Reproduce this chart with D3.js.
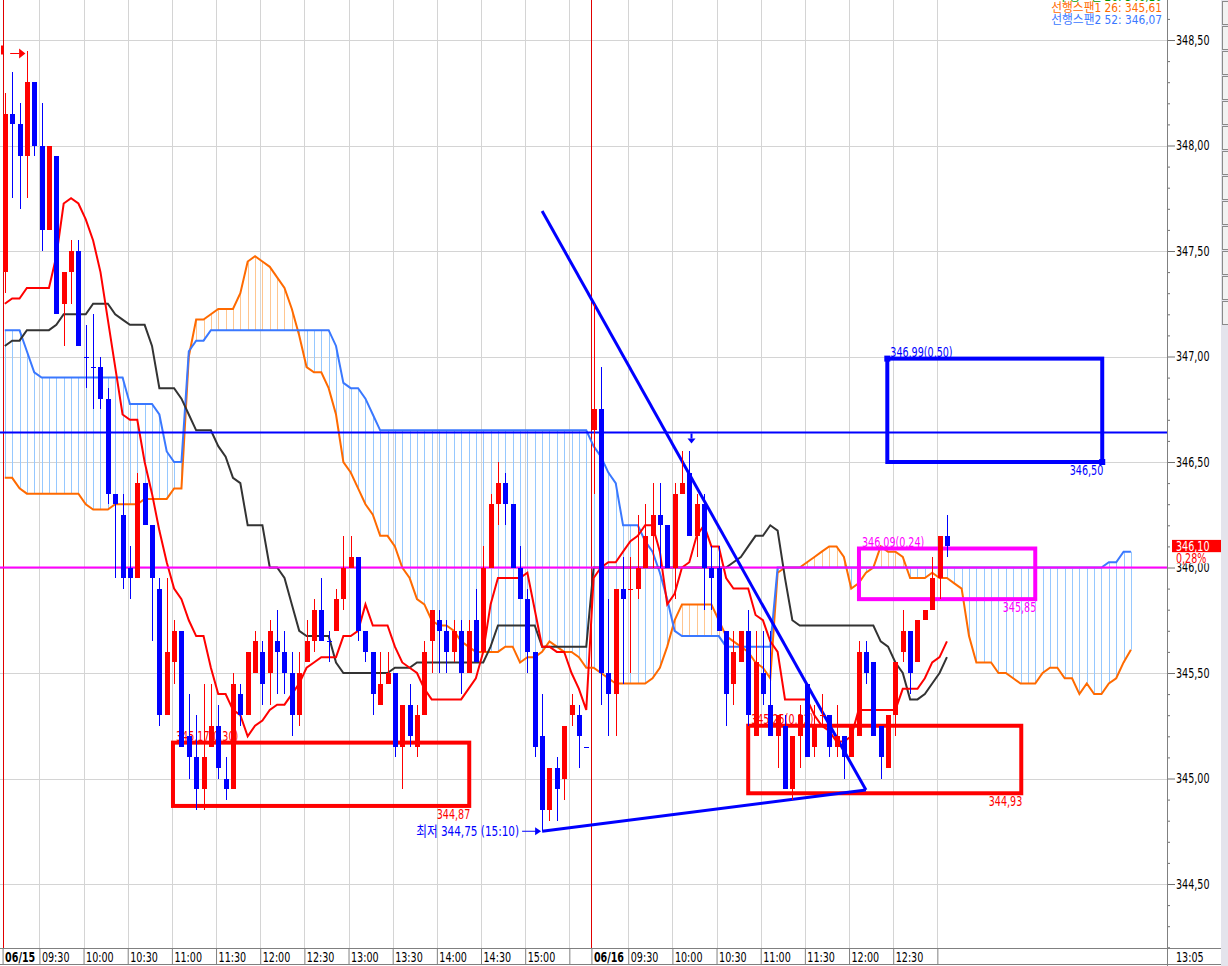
<!DOCTYPE html>
<html>
<head>
<meta charset="utf-8">
<script src="https://cdn.jsdelivr.net/npm/d3@7"></script>
<style>
body{margin:0;background:#fff;}
svg{display:block;}
text{font-family:"Liberation Sans Narrow","DejaVu Sans Condensed","Noto Sans CJK KR",sans-serif;}
</style>
</head>
<body>
<svg id="chart" width="1228" height="966"></svg>
<script>
// ---- data ----
var days = ["06/15", "06/16"];
var day1Count = 80;
var times1 = ["09:30","10:00","10:30","11:00","11:30","12:00","12:30","13:00","13:30","14:00","14:30","15:00",""];
var times2 = ["09:30","10:00","10:30","11:00","11:30","12:00","12:30",""];
var lastTime = "13:05";

var opens = [347.40,348.15,348.10,347.95,348.30,348.00,347.60,347.95,347.25,347.40,
  347.50,347.00,346.95,346.95,346.80,346.35,346.25,346.00,345.95,346.40,
  346.20,345.90,345.30,345.55,345.70,345.20,345.10,344.95,345.15,345.25,
  345.00,344.95,345.40,345.30,345.50,345.60,345.50,345.65,345.60,345.50,
  345.30,345.55,345.65,345.80,345.65,345.70,345.85,346.00,346.05,345.70,
  345.60,345.35,345.45,345.50,345.15,345.35,345.15,345.30,345.65,345.75,
  345.70,345.60,345.70,345.50,345.75,345.60,346.00,346.30,346.40,346.30,
  346.00,345.85,345.60,345.20,344.85,345.05,345.00,345.30,345.30,345.15,
  346.65,346.75,345.50,345.40,345.90,345.90,345.90,346.00,346.15,346.25,
  346.20,346.00,346.35,346.45,346.15,346.30,346.00,346.00,345.70,345.45,
  345.55,345.70,345.20,345.50,345.35,345.20,345.25,344.95,345.20,345.45,
  345.15,345.30,345.30,345.15,345.20,345.10,345.20,345.60,345.55,345.25,
  345.05,345.30,345.60,345.70,345.55,345.75,345.80,345.95,346.15];
var highs = [348.25,348.35,348.20,348.45,348.30,348.20,348.00,347.95,347.40,347.55,
  347.55,347.15,347.20,347.00,346.85,346.35,346.35,346.10,346.45,346.40,
  346.20,345.95,345.95,345.75,345.70,345.40,345.30,345.45,345.45,345.35,
  345.10,345.50,345.45,345.60,345.70,345.65,345.75,345.80,345.70,345.60,
  345.60,345.75,345.85,345.95,345.70,345.90,346.15,346.15,346.05,345.70,
  345.60,345.60,345.60,345.50,345.35,345.45,345.35,345.65,345.80,345.80,
  345.75,345.75,345.75,345.75,345.90,346.10,346.35,346.50,346.45,346.30,
  346.10,345.90,345.60,345.40,345.05,345.10,345.25,345.40,345.35,345.15,
  347.25,346.95,345.85,345.90,346.05,346.05,346.25,346.30,346.40,346.40,
  346.20,346.40,346.55,346.55,346.35,346.35,346.10,346.10,345.70,345.70,
  345.70,345.80,345.70,345.70,345.70,345.30,345.30,345.20,345.35,345.45,
  345.35,345.40,345.30,345.35,345.20,345.25,345.65,345.65,345.55,345.25,
  345.30,345.55,345.80,345.70,345.75,345.80,346.05,346.15,346.25];
var lows = [347.30,347.75,347.70,347.75,347.95,347.50,347.60,347.20,347.05,347.25,
  347.05,346.85,346.75,346.75,346.30,345.95,345.90,345.85,345.95,346.20,
  345.65,345.25,345.30,345.45,345.15,345.00,344.85,344.85,345.15,345.00,
  344.90,344.95,345.25,345.30,345.50,345.35,345.35,345.40,345.40,345.20,
  345.25,345.55,345.60,345.65,345.55,345.70,345.80,346.00,345.65,345.55,
  345.30,345.35,345.45,345.10,344.95,345.15,345.10,345.30,345.50,345.50,
  345.50,345.55,345.40,345.50,345.55,345.60,346.00,346.20,346.20,346.00,
  345.85,345.50,345.10,344.75,344.80,344.80,344.90,345.25,345.05,345.15,
  346.35,345.35,345.20,345.20,345.45,345.50,345.85,346.00,346.00,346.00,
  346.00,345.85,346.35,346.15,346.05,345.80,345.80,345.70,345.25,345.35,
  345.55,345.25,345.20,345.35,345.20,345.05,344.95,344.90,345.05,345.10,
  345.10,345.25,345.10,345.10,345.00,345.10,345.20,345.45,345.20,345.00,
  345.05,345.20,345.55,345.40,345.55,345.75,345.80,345.85,346.05];
var closes = [348.15,348.10,347.95,348.30,348.00,347.60,348.00,347.20,347.40,347.50,
  347.05,347.00,346.95,346.80,346.35,346.30,345.95,345.95,346.40,346.20,
  345.95,345.30,345.60,345.70,345.15,345.10,344.95,345.10,345.25,345.05,
  344.95,345.45,345.30,345.60,345.65,345.45,345.70,345.60,345.50,345.30,
  345.50,345.65,345.80,345.65,345.65,345.85,346.00,346.05,345.70,345.60,
  345.40,345.45,345.50,345.15,345.35,345.20,345.30,345.60,345.80,345.70,
  345.60,345.70,345.50,345.70,345.55,346.00,346.30,346.40,346.30,346.00,
  345.85,345.60,345.15,344.85,345.05,344.95,345.25,345.35,345.20,345.15,
  346.75,345.50,345.40,345.90,345.85,345.90,346.00,346.15,346.25,346.20,
  346.00,346.35,346.40,346.15,346.30,346.00,345.95,345.70,345.40,345.60,
  345.70,345.30,345.55,345.40,345.20,345.30,344.95,345.20,345.30,345.10,
  345.25,345.30,345.15,345.20,345.10,345.25,345.60,345.50,345.20,345.10,
  345.30,345.55,345.70,345.50,345.75,345.80,345.95,346.15,346.10];

var tenkan = [347.25,347.275,347.275,347.325,347.325,347.325,347.325,347.475,347.725,347.75,
  347.725,347.65,347.55,347.40,347.175,346.95,346.725,346.70,346.70,346.50,
  346.35,346.175,346.025,345.90,345.85,345.75,345.675,345.675,345.525,345.40,
  345.40,345.325,345.30,345.20,345.25,345.275,345.325,345.35,345.35,345.40,
  345.45,345.525,345.55,345.575,345.575,345.575,345.675,345.675,345.70,345.825,
  345.725,345.725,345.725,345.625,345.55,345.525,345.50,345.425,345.375,345.375,
  345.375,345.375,345.375,345.425,345.475,345.60,345.825,345.95,345.95,345.95,
  345.95,345.975,345.80,345.625,345.625,345.60,345.60,345.50,345.425,345.325,
  345.95,346.00,346.025,346.025,346.075,346.125,346.15,346.20,346.20,346.075,
  345.825,345.875,346.00,346.025,346.15,346.20,346.10,346.10,345.95,345.90,
  345.90,345.90,345.775,345.75,345.65,345.60,345.375,345.375,345.375,345.375,
  345.30,345.25,345.225,345.175,345.175,345.20,345.325,345.325,345.325,345.325,
  345.325,345.325,345.425,345.425,345.425,345.475,345.55,345.575,345.65];
var kijun = [347.05,347.075,347.075,347.125,347.125,347.125,347.125,347.15,347.20,347.20,
  347.20,347.20,347.25,347.25,347.25,347.20,347.175,347.15,347.15,347.15,
  347.05,346.85,346.85,346.85,346.80,346.725,346.65,346.65,346.65,346.575,
  346.525,346.425,346.40,346.20,346.20,346.20,346.00,346.00,345.95,345.825,
  345.70,345.675,345.675,345.675,345.675,345.55,345.50,345.50,345.50,345.50,
  345.50,345.50,345.50,345.525,345.525,345.525,345.55,345.55,345.55,345.55,
  345.55,345.55,345.55,345.55,345.55,345.55,345.625,345.725,345.725,345.725,
  345.725,345.725,345.725,345.625,345.625,345.625,345.625,345.625,345.625,345.625,
  346.00,346.00,346.00,346.00,346.00,346.00,346.00,346.00,346.00,346.00,
  346.00,346.00,346.00,346.00,346.00,346.00,346.00,346.00,346.00,346.025,
  346.05,346.10,346.15,346.15,346.20,346.175,345.95,345.75,345.725,345.725,
  345.725,345.725,345.725,345.725,345.725,345.725,345.725,345.725,345.725,345.65,
  345.625,345.55,345.50,345.375,345.375,345.40,345.45,345.50,345.575];
var span1 = [346.425,346.425,346.375,346.35,346.35,346.35,346.35,346.35,346.35,346.35,
  346.35,346.30,346.275,346.275,346.275,346.30,346.30,346.30,346.30,346.325,
  346.325,346.325,346.325,346.375,346.375,347.00,347.175,347.175,347.20,347.225,
  347.225,347.225,347.30,347.45,347.475,347.45,347.425,347.375,347.325,347.225,
  347.10,346.95,346.925,346.925,346.85,346.725,346.50,346.45,346.375,346.30,
  346.25,346.15,346.15,346.10,346.00,345.95,345.85,345.825,345.75,345.725,
  345.725,345.70,345.65,345.625,345.60,345.60,345.60,345.60,345.625,345.625,
  345.55,345.575,345.575,345.60,345.65,345.625,345.60,345.60,345.575,345.525,
  345.525,345.50,345.475,345.45,345.45,345.45,345.45,345.45,345.475,345.525,
  345.625,345.75,345.825,345.825,345.825,345.825,345.825,345.75,345.675,345.65,
  345.625,345.60,345.55,345.525,345.475,345.975,346.00,346.00,346.00,346.025,
  346.05,346.075,346.10,346.10,346.05,345.90,345.925,345.975,346.00,346.10,
  346.075,346.075,346.05,345.95,345.95,345.95,345.975,345.95,345.95,345.925,
  345.90,345.675,345.55,345.55,345.55,345.50,345.50,345.475,345.45,345.45,
  345.45,345.50,345.525,345.525,345.475,345.475,345.40,345.45,345.40,345.40,
  345.45,345.475,345.55,345.61];
var span2 = [347.125,347.125,347.125,347.025,346.925,346.90,346.90,346.90,346.90,346.90,
  346.90,346.90,346.90,346.90,346.90,346.90,346.90,346.775,346.775,346.775,
  346.775,346.725,346.55,346.50,346.50,347.025,347.075,347.075,347.125,347.125,
  347.125,347.125,347.125,347.125,347.125,347.125,347.125,347.125,347.125,347.125,
  347.125,347.125,347.125,347.125,347.125,347.05,346.875,346.85,346.85,346.80,
  346.725,346.65,346.65,346.65,346.65,346.65,346.65,346.65,346.65,346.65,
  346.65,346.65,346.65,346.65,346.65,346.65,346.65,346.65,346.65,346.65,
  346.65,346.65,346.65,346.65,346.65,346.65,346.65,346.65,346.65,346.65,
  346.575,346.525,346.45,346.40,346.20,346.20,346.20,346.125,346.075,345.975,
  345.85,345.70,345.675,345.675,345.675,345.675,345.675,345.675,345.625,345.625,
  345.625,345.625,345.625,345.625,345.625,346.00,346.00,346.00,346.00,346.00,
  346.00,346.00,346.00,346.00,346.00,346.00,346.00,346.00,346.00,346.00,
  346.00,346.00,346.00,346.00,346.00,346.00,346.00,346.00,346.00,346.00,
  346.00,346.00,346.00,346.00,346.00,346.00,346.00,346.00,346.00,346.00,
  346.00,346.00,346.00,346.00,346.00,346.00,346.00,346.00,346.00,346.00,
  346.025,346.025,346.075,346.075];

var yMajor = [348.5, 348.0, 347.5, 347.0, 346.5, 346.0, 345.5, 345.0, 344.5];
var openLine = 346.64;
var baseLine = 346.00;
var lastPct = "0,28%";

var boxFrom = [22.85, 101, 116.05, 119.9];
var boxTo = [63.1, 138.1, 140, 149.1];
var boxHigh = [345.17, 345.25, 346.09, 346.99];
var boxLow = [344.87, 344.93, 345.85, 346.50];
var boxPct = ["0,30", "0,32", "0,24", "0,50"];

var trendIdx = [73, 117];
var trendTop = [347.69, 344.945];
var trendBottom = [344.75, 344.945];
var lowText = "최저";
var lowTime = "15:10";

// ---- drawing ----
var W = 1228, H = 966, plotRight = 1167, plotBottom = 948;
var svg = d3.select("#chart");
var x = d3.scaleLinear().domain([-0.652, 157.9]).range([0, plotRight]);
var y = d3.scaleLinear().domain([348.5, 344.5]).range([40, 884]);
var fmt = function(v){ return d3.format(".2f")(v).replace(".", ","); };
var cut = function(v){ return fmt(Math.floor(v * 100 + 1e-6) / 100); };
var px = function(v){ return Math.round(v) + 0.5; };

svg.append("rect").attr("width", W).attr("height", H).attr("fill", "#fff");
svg.append("defs").append("clipPath").attr("id", "clip")
  .append("rect").attr("width", plotRight).attr("height", plotBottom);
var plot = svg.append("g").attr("clip-path", "url(#clip)");

// tick positions on the time axis (grid sits at left edge of the candle slot)
var tickIdx = [], tickText = [], tickBold = [];
[times1, times2].forEach(function(list, d){
  var start = d * day1Count;
  tickIdx.push(start - 0.3); tickText.push(days[d]); tickBold.push(true);
  list.forEach(function(t, j){
    tickIdx.push(start + 5 + 6 * j - 0.3); tickText.push(t); tickBold.push(false);
  });
});

// grid
plot.selectAll(".hg").data(yMajor).enter().append("line")
  .attr("x1", 0).attr("x2", plotRight)
  .attr("y1", function(d){ return px(y(d)); }).attr("y2", function(d){ return px(y(d)); })
  .attr("stroke", "#d4d4d4");
plot.selectAll(".vg").data(tickIdx.filter(function(d, i){ return !tickBold[i]; })).enter().append("line")
  .attr("x1", function(d){ return px(x(d)); }).attr("x2", function(d){ return px(x(d)); })
  .attr("y1", 0).attr("y2", plotBottom)
  .attr("stroke", "#d4d4d4");
plot.selectAll(".dg").data(tickIdx.filter(function(d, i){ return tickBold[i]; })).enter().append("line")
  .attr("x1", function(d){ return px(x(d)); }).attr("x2", function(d){ return px(x(d)); })
  .attr("y1", 0).attr("y2", plotBottom)
  .attr("stroke", "#e00000");

// cloud hatch
var hatch = d3.range(span1.length).filter(function(i){ return span1[i] !== span2[i]; });
plot.selectAll(".hatch").data(hatch).enter().append("line")
  .attr("x1", function(i){ return px(x(i)); }).attr("x2", function(i){ return px(x(i)); })
  .attr("y1", function(i){ return y(span1[i]); }).attr("y2", function(i){ return y(span2[i]); })
  .attr("stroke", function(i){ return span1[i] > span2[i] ? "#ffc690" : "#96c8ff"; })
  .attr("stroke-width", 1);

var lineGen = d3.line().x(function(d, i){ return x(i); }).y(function(d){ return y(d); });
[[span1, "#ff6a00"], [span2, "#3a78ff"], [kijun, "#333333"], [tenkan, "#ff0000"]].forEach(function(s){
  plot.append("path").datum(s[0]).attr("d", lineGen)
    .attr("fill", "none").attr("stroke", s[1]).attr("stroke-width", 2);
});

// horizontal study lines
plot.append("line").attr("x1", 0).attr("x2", plotRight)
  .attr("y1", y(openLine)).attr("y2", y(openLine)).attr("stroke", "#0000ff").attr("stroke-width", 2);
plot.append("line").attr("x1", 0).attr("x2", plotRight)
  .attr("y1", y(baseLine)).attr("y2", y(baseLine)).attr("stroke", "#ff00ff").attr("stroke-width", 2);

// boxes
var boxColors = ["#ff0000", "#ff0000", "#ff00ff", "#0000ff"];
boxFrom.forEach(function(b, k){
  var x0 = x(boxFrom[k]), x1 = x(boxTo[k]), y0 = y(boxHigh[k]), y1 = y(boxLow[k]);
  plot.append("rect").attr("x", x0).attr("y", y0).attr("width", x1 - x0).attr("height", y1 - y0)
    .attr("fill", "none").attr("stroke", boxColors[k]).attr("stroke-width", 4);
  plot.append("text").attr("class", "sq").attr("x", x0 + 3).attr("y", y0 - 2).attr("font-size", 14)
    .attr("fill", boxColors[k]).text(fmt(boxHigh[k]) + "(" + boxPct[k] + ")");
  plot.append("text").attr("class", "sq").attr("x", x1 + 1).attr("y", y1 + 13).attr("font-size", 14)
    .attr("text-anchor", "end").attr("fill", boxColors[k]).text(fmt(boxLow[k]));
});
// handles on the blue box
plot.append("rect").attr("x", x(boxFrom[3]) - 3).attr("y", y(boxHigh[3]) - 3).attr("width", 6).attr("height", 6).attr("fill", "#0000ff");
plot.append("rect").attr("x", x(boxTo[3]) - 3).attr("y", y(boxLow[3]) - 3).attr("width", 6).attr("height", 6).attr("fill", "#0000ff");

// trend lines
plot.append("line").attr("x1", x(trendIdx[0])).attr("y1", y(trendTop[0]))
  .attr("x2", x(trendIdx[1])).attr("y2", y(trendTop[1])).attr("stroke", "#0000ff").attr("stroke-width", 3);
plot.append("line").attr("x1", x(trendIdx[0])).attr("y1", y(trendBottom[0]))
  .attr("x2", x(trendIdx[1])).attr("y2", y(trendBottom[1])).attr("stroke", "#0000ff").attr("stroke-width", 3);

// candles
var idx = d3.range(opens.length);
function candleColor(i){
  if (closes[i] > opens[i]) return "#ff0000";
  if (closes[i] < opens[i]) return "#0000ff";
  return (i > 0 && closes[i] > closes[i - 1]) ? "#ff0000" : "#0000ff";
}
var cg = plot.append("g").attr("shape-rendering", "crispEdges");
cg.selectAll(".wick").data(idx).enter().append("line")
  .attr("x1", function(i){ return px(x(i)); }).attr("x2", function(i){ return px(x(i)); })
  .attr("y1", function(i){ return y(highs[i]); }).attr("y2", function(i){ return y(lows[i]); })
  .attr("stroke", candleColor);
cg.selectAll(".body").data(idx).enter().append("rect")
  .attr("x", function(i){ return Math.round(x(i)) - 2; })
  .attr("width", 5)
  .attr("y", function(i){ return Math.min(y(opens[i]), y(closes[i])); })
  .attr("height", function(i){ return Math.max(1, Math.abs(y(opens[i]) - y(closes[i]))); })
  .attr("fill", candleColor);

// low marker
var lx = x(trendIdx[0]), ly = y(trendBottom[0]);
plot.append("path").attr("d", "M" + (lx - 20) + "," + ly + "H" + (lx - 6))
  .attr("stroke", "#0000ff").attr("stroke-width", 1);
plot.append("path").attr("d", "M" + (lx - 7) + "," + (ly - 4) + "L" + (lx - 1) + "," + ly + "L" + (lx - 7) + "," + (ly + 4) + "Z")
  .attr("fill", "#0000ff");
plot.append("text").attr("class", "lw").attr("x", lx - 23).attr("y", ly + 5).attr("font-size", 14)
  .attr("text-anchor", "end").attr("fill", "#0000ff")
  .text(lowText + " " + fmt(trendBottom[0]) + " (" + lowTime + ")");

// down arrow under the open line
var ax = px(x(93.2)), ay = y(openLine);
plot.append("path").attr("d", "M" + ax + "," + (ay + 1) + "V" + (ay + 6)).attr("stroke", "#0000ff").attr("stroke-width", 2);
plot.append("path").attr("d", "M" + (ax - 4) + "," + (ay + 6) + "H" + (ax + 4) + "L" + ax + "," + (ay + 11) + "Z").attr("fill", "#0000ff");

// top-left arrow (high off-screen)
var ty = px(y(348.44));
plot.append("path").attr("d", "M" + x(0.73) + "," + ty + "H" + x(1.95)).attr("stroke", "#ff0000").attr("stroke-width", 1);
plot.append("path").attr("d", "M" + x(1.95) + "," + (ty - 5) + "L" + x(2.8) + "," + ty + "L" + x(1.95) + "," + (ty + 5) + "Z").attr("fill", "#ff0000");
plot.append("rect").attr("x", 1).attr("y", ty - 8).attr("width", 2.5).attr("height", 9).attr("fill", "#ff0000");

// legend (top line is cut by the window edge, as in the terminal)
var legend = svg.append("g").attr("font-size", 12).attr("text-anchor", "end");
legend.append("text").attr("class", "lg").attr("x", 1162).attr("y", 1).attr("fill", "#009900").text("후행스팬 26: " + cut(closes[closes.length - 1]));
legend.append("text").attr("class", "lg").attr("x", 1162).attr("y", 12).attr("fill", "#ff6a00").text("선행스팬1 26: " + cut(span1[span1.length - 1]));
legend.append("text").attr("class", "lg").attr("x", 1162).attr("y", 24).attr("fill", "#3a78ff").text("선행스팬2 52: " + cut(span2[span2.length - 1]));

// y axis
var yMinor = d3.range(3441, 3487).map(function(v){ return v / 10; })
  .filter(function(v){ return Math.abs(v * 2 - Math.round(v * 2)) > 1e-6; });
var ya1 = svg.append("g").attr("transform", "translate(" + plotRight + ",0)")
  .call(d3.axisRight(y).tickValues(yMinor).tickSize(3).tickFormat(""));
var ya2 = svg.append("g").attr("transform", "translate(" + plotRight + ",0)")
  .call(d3.axisRight(y).tickValues(yMajor).tickSize(8).tickPadding(1).tickFormat(fmt));
[ya1, ya2].forEach(function(g){
  g.select(".domain").remove();
  g.selectAll(".tick line").attr("stroke", "#707070");
  g.selectAll(".tick text").attr("class", "sq").attr("font-size", 14).attr("fill", "#000")
    .attr("font-family", "'Liberation Sans Narrow','DejaVu Sans Condensed',sans-serif");
});
svg.append("line").attr("x1", plotRight + 0.5).attr("x2", plotRight + 0.5).attr("y1", 0).attr("y2", H)
  .attr("stroke", "#808080");

// last price tag
var lastClose = closes[closes.length - 1];
var py = y(lastClose);
svg.append("rect").attr("x", 1172).attr("y", py - 6.5).attr("width", 49).attr("height", 12.5).attr("fill", "#ff0000");
svg.append("text").attr("class", "sq").attr("x", 1176).attr("y", py + 5).attr("font-size", 14).attr("fill", "#fff").text(fmt(lastClose));
svg.append("rect").attr("x", 1172).attr("y", py + 6).attr("width", 49).attr("height", 11).attr("fill", "#fff");
svg.append("text").attr("class", "sq").attr("x", 1176).attr("y", py + 16.5).attr("font-size", 14).attr("fill", "#ff0000").text(lastPct);

// x axis
var xa = svg.append("g").attr("transform", "translate(0," + plotBottom + ")")
  .call(d3.axisBottom(x).tickValues(tickIdx).tickSize(17).tickFormat(function(d, i){ return tickText[i]; }));
xa.select(".domain").remove();
xa.selectAll(".tick line").attr("stroke", "#808080");
xa.selectAll(".tick text").attr("class", "sq").attr("x", 2).attr("y", 9).attr("dy", "0.35em")
  .attr("text-anchor", "start").attr("font-size", 14).attr("fill", "#000")
  .attr("font-family", "'Liberation Sans Narrow','DejaVu Sans Condensed',sans-serif")
  .attr("font-weight", function(d, i){ return tickBold[i] ? "bold" : "normal"; });
svg.append("line").attr("x1", 0).attr("x2", 1221).attr("y1", plotBottom + 0.5).attr("y2", plotBottom + 0.5).attr("stroke", "#808080");
svg.append("line").attr("x1", 0).attr("x2", 1221).attr("y1", H - 1.5).attr("y2", H - 1.5).attr("stroke", "#808080");
svg.append("text").attr("class", "sq").attr("x", 1176).attr("y", plotBottom + 9).attr("dy", "0.35em").attr("font-size", 14).text(lastTime);

// right tool strip
svg.append("rect").attr("x", 1221).attr("y", 0).attr("width", 7).attr("height", H).attr("fill", "#e4e4ec");
d3.range(13).forEach(function(k){
  svg.append("rect").attr("x", 1222.5).attr("y", 1.5 + 25 * k).attr("width", 8).attr("height", 23)
    .attr("fill", "#f2f2f2").attr("stroke", "#8a8a8a");
});

// the terminal font is a narrow bitmap face: squeeze the labels horizontally
function squeeze(sel, f){
  sel.each(function(){
    var n = this, w = n.getComputedTextLength();
    if (w > 0) { n.setAttribute("textLength", (w * f).toFixed(1)); n.setAttribute("lengthAdjust", "spacingAndGlyphs"); }
  });
}
squeeze(svg.selectAll("text.sq"), 0.76);
squeeze(svg.selectAll("text.lw"), 0.83);
squeeze(svg.selectAll("text.lg"), 0.98);
</script>
</body>
</html>
